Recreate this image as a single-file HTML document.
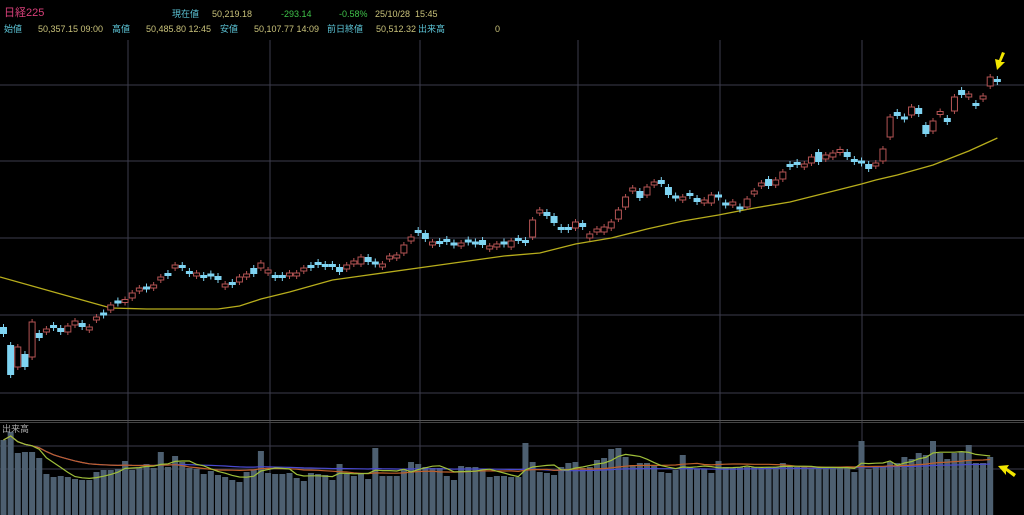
<!DOCTYPE html>
<html><head><meta charset="utf-8">
<style>
html,body{margin:0;padding:0;background:#000;}
body{width:1024px;height:515px;overflow:hidden;position:relative;font-family:"Liberation Sans","Noto Sans CJK JP",sans-serif;}
.t{position:absolute;font-size:9px;white-space:nowrap;line-height:11px;}
.lb{color:#5cc4d6}.vl{color:#c9c27a}.gr{color:#3fc34a}
</style></head>
<body>
<div class="t" style="left:4px;top:8px;font-size:11px;color:#d8407a">日経225</div>
<div class="t lb" style="left:172px;top:9px">現在値</div>
<div class="t vl" style="left:212px;top:9px">50,219.18</div>
<div class="t gr" style="left:281px;top:9px">-293.14</div>
<div class="t gr" style="left:339px;top:9px">-0.58%</div>
<div class="t vl" style="left:375px;top:9px">25/10/28&nbsp; 15:45</div>
<div class="t lb" style="left:4px;top:24px">始値</div>
<div class="t vl" style="left:38px;top:24px">50,357.15 09:00</div>
<div class="t lb" style="left:112px;top:24px">高値</div>
<div class="t vl" style="left:146px;top:24px">50,485.80 12:45</div>
<div class="t lb" style="left:220px;top:24px">安値</div>
<div class="t vl" style="left:254px;top:24px">50,107.77 14:09</div>
<div class="t lb" style="left:327px;top:24px">前日終値</div>
<div class="t vl" style="left:376px;top:24px">50,512.32</div>
<div class="t lb" style="left:418px;top:24px">出来高</div>
<div class="t vl" style="left:495px;top:24px">0</div>
<svg id="chart" width="1024" height="515" style="position:absolute;left:0;top:0"></svg>
<script>
const opens=[44325,43875,43325,43650,43575,44175,44225,44350,44300,44200,44375,44425,44275,44525,44675,44750,44975,44950,45050,45225,45325,45325,45500,45650,45825,45850,45700,45625,45600,45650,45600,45350,45425,45450,45575,45800,45800,45700,45625,45600,45625,45600,45750,45850,45925,45900,45900,45825,45775,45900,45900,46075,45950,45850,46050,46075,46175,46475,46725,46675,46375,46450,46525,46425,46350,46500,46450,46500,46300,46325,46450,46325,46550,46475,46575,47175,47200,47100,46800,46800,46800,46925,46550,46725,46700,46800,47025,47325,47725,47725,47625,47875,48000,47825,47600,47525,47675,47550,47450,47425,47625,47425,47400,47325,47325,47675,47850,48025,47875,48025,48375,48425,48350,48425,48700,48525,48575,48700,48700,48500,48475,48400,48350,48475,49075,49700,49575,49625,49800,49375,49225,49650,49550,49725,50250,50100,49925,50025,50350,50500];
const closes=[44150,43125,43825,43325,44450,44050,44250,44325,44200,44350,44475,44325,44300,44550,44625,44875,44925,45000,45175,45300,45275,45350,45575,45625,45850,45825,45675,45650,45575,45600,45500,45375,45400,45575,45650,45650,45925,45725,45550,45575,45650,45675,45775,45825,45900,45825,45825,45700,45875,45975,46075,45950,45900,45875,46075,46100,46375,46575,46700,46525,46450,46425,46450,46375,46425,46450,46400,46375,46325,46400,46400,46475,46475,46450,47000,47250,47100,46925,46775,46775,46950,46825,46650,46750,46825,46950,47250,47575,47800,47550,47825,47950,47900,47625,47550,47550,47600,47450,47475,47625,47575,47375,47425,47275,47525,47700,47925,47850,48000,48200,48350,48400,48375,48575,48450,48625,48675,48750,48575,48475,48425,48275,48425,48775,49575,49600,49525,49825,49650,49150,49475,49700,49450,50075,50125,50125,49850,50100,50575,50475];
const maIndex=[0,10,15,20,30,33,36,40,46,50,60,70,75,80,85,90,95,100,105,110,115,120,122,125,130,135,139];
const maValues=[45575,45050,44800,44775,44775,44850,45025,45200,45500,45600,45850,46100,46175,46400,46550,46775,46975,47125,47300,47450,47675,47900,48000,48125,48375,48725,49050];
const volumes=[1500,1660,1240,1260,1260,1140,820,760,780,760,720,700,700,860,900,900,920,1080,900,940,1020,940,1260,960,1180,1060,940,920,820,880,800,760,700,660,860,900,1280,840,820,820,840,740,680,840,820,800,700,1020,820,780,820,720,1340,780,780,780,900,1060,1020,960,940,940,780,700,980,960,960,920,760,780,780,760,760,1440,1060,860,840,800,960,1040,1060,940,960,1100,1140,1320,1340,1160,1000,1040,1040,1000,860,840,900,1200,960,920,920,840,1080,960,940,960,960,960,940,960,960,1040,960,960,960,940,940,960,960,940,940,860,1480,920,980,960,1060,1040,1160,1120,1240,1200,1480,1240,1120,1240,1260,1400,1040,1040,1160];
const NS='http://www.w3.org/2000/svg';
const svg=document.getElementById('chart');
const xOf=i=>3.5+i*7.15;
const yP=v=>(52500-v)/25;
const yV=v=>515-v/20;
function mk(tag,attrs,parent){const e=document.createElementNS(NS,tag);for(const k in attrs)e.setAttribute(k,attrs[k]);(parent||svg).appendChild(e);return e;}
const grid=mk('g',{});


[85,161,238,315,393,446,469].forEach(y=>mk('line',{x1:0,x2:1024,y1:y,y2:y,stroke:'#3c3c4c','stroke-width':1},grid));
[128,270,420,578,720,862].forEach(x=>mk('line',{x1:x,x2:x,y1:40,y2:515,stroke:'#3c3c4c','stroke-width':1},grid));
mk('line',{x1:0,x2:1024,y1:420.5,y2:420.5,stroke:'#555','stroke-width':1},grid);
mk('line',{x1:0,x2:1024,y1:422.5,y2:422.5,stroke:'#444','stroke-width':1},grid);
const vg=mk('g',{});


volumes.forEach((v,i)=>{const y=yV(v);const r=mk('rect',{x:xOf(i)-3,y:y,width:6,height:515-y,fill:'#4d5f70'},vg);

});
function smaLine(n,color,name){let pts=[];for(let i=0;i<volumes.length;i++){const s=Math.max(0,i-n+1);let sum=0;for(let j=s;j<=i;j++)sum+=volumes[j];pts.push(xOf(i).toFixed(1)+','+yV(sum/(i-s+1)).toFixed(1));}
const p=mk('polyline',{points:pts.join(' '),fill:'none',stroke:color,'stroke-width':1.2});

}
smaLine(75,'#4a4ad0','volume-ma-long');
smaLine(25,'#c0602a','volume-ma-mid');
smaLine(5,'#9fbf3a','volume-ma-short');
const vt=mk('text',{x:2,y:432,fill:'#aaa','font-size':9,'font-family':'Liberation Sans, Noto Sans CJK JP, sans-serif'});
vt.textContent='出来高';


const ma=mk('polyline',{points:maIndex.map((k,j)=>(k===0?0:xOf(k)).toFixed(1)+','+yP(maValues[j]).toFixed(1)).join(' '),fill:'none',stroke:'#b7ad1c','stroke-width':1.3});


const cg=mk('g',{});


opens.forEach((o,i)=>{const c=closes[i];const up=c>=o;const x=xOf(i);let yt=yP(Math.max(o,c)),yb=yP(Math.min(o,c));
if(yb-yt<3){const m=(yt+yb)/2;yt=m-1.5;yb=m+1.5;}
const col=up?'#b45454':'#7fd4f2';
mk('line',{x1:x,x2:x,y1:yt-3,y2:yb+3,stroke:col,'stroke-width':1},cg);
let r;
if(up){r=mk('rect',{x:x-3,y:yt,width:6,height:yb-yt,fill:'#000',stroke:col,'stroke-width':1},cg);}
else{r=mk('rect',{x:x-3.5,y:yt,width:7,height:yb-yt,fill:col},cg);}

});
const a1=mk('polygon',{points:'1002,52 1005,53 1001,62 1005,62 997,70 995,59 999,60',fill:'#f2e600'});


const a2=mk('polygon',{points:'1016,474 1014,477 1006,471 1006,475 998,466 1009,465 1007,468',fill:'#f2e600'});


</script>
</body></html>
